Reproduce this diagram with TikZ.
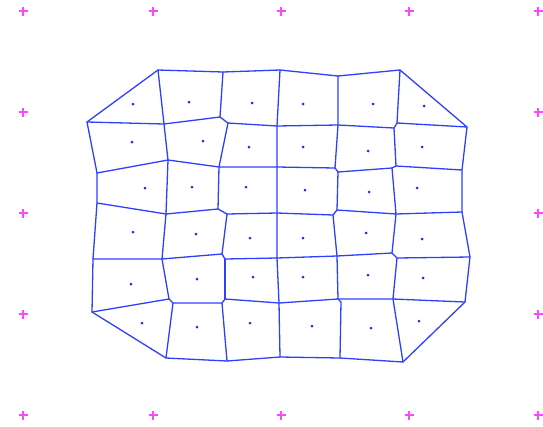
\documentclass[tikz,border=0pt]{standalone}
\usetikzlibrary{calc}
\definecolor{edgeblue}{RGB}{45,65,250}
\definecolor{dotblue}{RGB}{30,45,235}
\definecolor{sitepink}{RGB}{255,70,255}
\tikzset{
  vedge/.style={draw=edgeblue, line width=1.3pt, line join=round, line cap=round},
  site/.style={circle, fill=dotblue, inner sep=0pt, minimum size=3pt},
}
\newcommand{\pinkplus}[2]{%
  \fill[sitepink] ($(#1,#2)+(-4.5,-1.3)$) rectangle ($(#1,#2)+(4.5,1.3)$);
  \fill[sitepink] ($(#1,#2)+(-1.3,-4.5)$) rectangle ($(#1,#2)+(1.3,4.5)$);
}
\begin{document}
\begin{tikzpicture}[x=1pt,y=-1pt]
\useasboundingbox (0,0) rectangle (543,426);
% vertices
\coordinate (t0) at (87,122);
\coordinate (t1) at (158,70);
\coordinate (t2) at (223,72);
\coordinate (t3) at (280,70);
\coordinate (t4) at (338,76);
\coordinate (t5) at (400,70);
\coordinate (t6) at (467,127);
\coordinate (a1) at (164,124);
\coordinate (a2a) at (220,117);
\coordinate (a2b) at (228,123);
\coordinate (a3) at (277,126);
\coordinate (a4) at (338,125);
\coordinate (a5a) at (397,123);
\coordinate (a5b) at (394,128);
\coordinate (l2) at (97,173);
\coordinate (b1) at (168,160);
\coordinate (b2) at (219,167);
\coordinate (b3) at (277,167);
\coordinate (b4a) at (335,168);
\coordinate (b4b) at (338,172);
\coordinate (b5a) at (392,168);
\coordinate (b5b) at (396,166);
\coordinate (r2) at (462,170);
\coordinate (l3) at (97,203);
\coordinate (c1) at (166,214);
\coordinate (c2a) at (218,209);
\coordinate (c2b) at (227,214);
\coordinate (c3) at (277,213);
\coordinate (c4a) at (337,210);
\coordinate (c4b) at (333,215);
\coordinate (c5) at (396,214);
\coordinate (r3) at (462,212);
\coordinate (l4) at (93,259);
\coordinate (d1) at (162,259);
\coordinate (d2a) at (222,254);
\coordinate (d2b) at (225,259);
\coordinate (d3) at (277,258);
\coordinate (d4) at (337,256);
\coordinate (d5a) at (392,253);
\coordinate (d5b) at (397,258);
\coordinate (r4) at (470,257);
\coordinate (l5) at (92,312);
\coordinate (e1a) at (169,299);
\coordinate (e1b) at (173,303);
\coordinate (e2a) at (222,303);
\coordinate (e2b) at (225,299);
\coordinate (e3) at (279,303);
\coordinate (e4a) at (338,299);
\coordinate (e4b) at (341,302);
\coordinate (e5) at (393,299);
\coordinate (r5) at (465,302);
\coordinate (f1) at (166,358);
\coordinate (f2) at (227,361);
\coordinate (f3) at (280,357);
\coordinate (f4) at (340,358);
\coordinate (f5) at (403,362);
% outer boundary
\draw[vedge] (t0) -- (t1) -- (t2) -- (t3) -- (t4) -- (t5) -- (t6) -- (r2) -- (r3) -- (r4) -- (r5) -- (f5) -- (f4) -- (f3) -- (f2) -- (f1) -- (l5) -- (l4) -- (l3) -- (l2) -- cycle;
% vertical edges
\draw[vedge] (t1) -- (a1) -- (b1) -- (c1) -- (d1) -- (e1a);
\draw[vedge] (e1b) -- (f1);
\draw[vedge] (t2) -- (a2a);
\draw[vedge] (a2b) -- (b2) -- (c2a);
\draw[vedge] (c2b) -- (d2a);
\draw[vedge] (d2b) -- (e2b);
\draw[vedge] (e2a) -- (f2);
\draw[vedge] (t3) -- (a3) -- (b3) -- (c3) -- (d3) -- (e3) -- (f3);
\draw[vedge] (t4) -- (a4) -- (b4a);
\draw[vedge] (b4b) -- (c4a);
\draw[vedge] (c4b) -- (d4) -- (e4a);
\draw[vedge] (e4b) -- (f4);
\draw[vedge] (t5) -- (a5a) -- (a5b) -- (b5b);
\draw[vedge] (b5a) -- (c5) -- (d5a);
\draw[vedge] (d5b) -- (e5) -- (f5);
% horizontal edges
\draw[vedge] (t0) -- (a1) -- (a2a) -- (a2b) -- (a3) -- (a4) -- (a5b);
\draw[vedge] (a5a) -- (t6);
\draw[vedge] (l2) -- (b1) -- (b2) -- (b3) -- (b4a) -- (b4b) -- (b5a) -- (b5b) -- (r2);
\draw[vedge] (l3) -- (c1) -- (c2a) -- (c2b) -- (c3) -- (c4b) -- (c4a) -- (c5) -- (r3);
\draw[vedge] (l4) -- (d1) -- (d2a) -- (d2b) -- (d3) -- (d4) -- (d5a) -- (d5b) -- (r4);
\draw[vedge] (l5) -- (e1a) -- (e1b) -- (e2a) -- (e2b) -- (e3) -- (e4a) -- (e5) -- (r5);
\draw[vedge] (e4a) -- (e4b);
% inner sites
\foreach \n/\x/\y in {
 s11/133/104, s12/189/102, s13/252/103, s14/303/104, s15/373/104, s16/424/106,
 s21/132/142, s22/203/141, s23/249/147, s24/303/147, s25/368/151, s26/422/147,
 s31/145/188, s32/192/187, s33/246/187, s34/305/190, s35/369/192, s36/417/188,
 s41/133/232, s42/196/234, s43/250/238, s44/303/238, s45/366/233, s46/422/239,
 s51/131/284, s52/197/279, s53/253/277, s54/303/277, s55/368/275, s56/423/278,
 s61/142/323, s62/197/327, s63/250/323, s64/312/326, s65/371/328, s66/419/321}
 {\node[site] (\n) at (\x,\y) {};}
% outer sites
\foreach \x in {23,153,281,409,538} {\pinkplus{\x}{11}\pinkplus{\x}{415}}
\foreach \y in {112,213,314} {\pinkplus{23}{\y}\pinkplus{538}{\y}}
\end{tikzpicture}
\end{document}
